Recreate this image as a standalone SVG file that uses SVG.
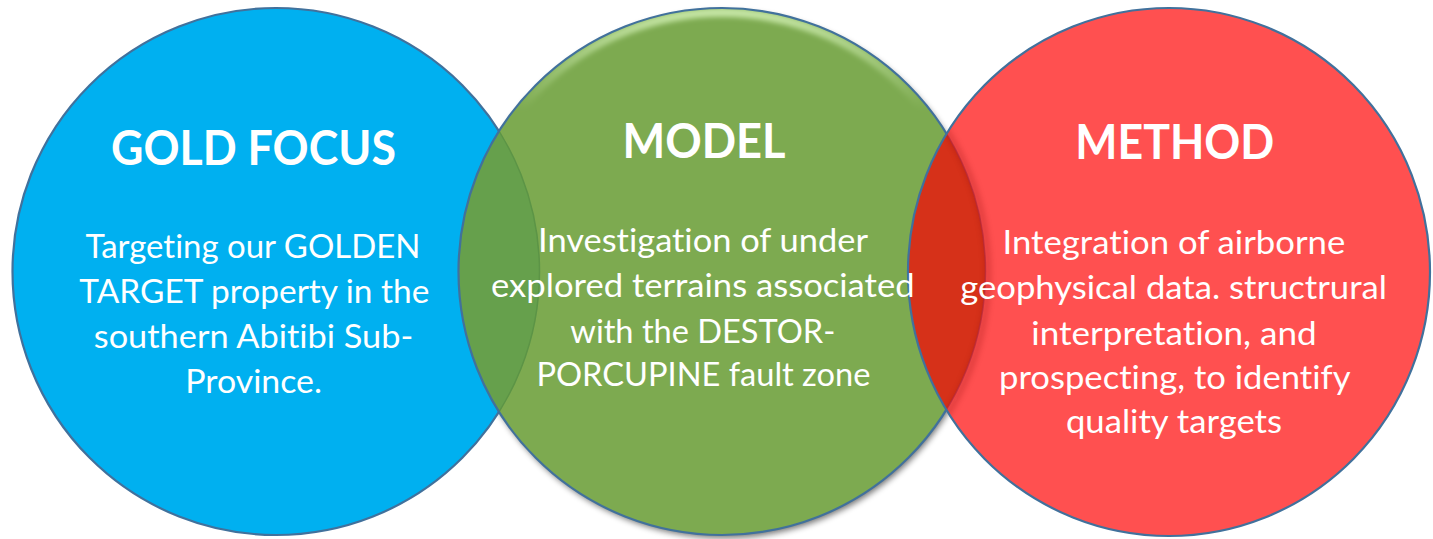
<svg xmlns="http://www.w3.org/2000/svg" width="1433" height="539" viewBox="0 0 1433 539">
  <style>
    .ring { fill: none; stroke: #41719C; stroke-width: 2.2; }
    .title { font-family: Lato, "Open Sans", sans-serif; font-weight: 700; font-size: 48px; fill: #FFFFFF; text-anchor: middle; font-variant-ligatures: none; }
    .body { font-family: Lato, "Open Sans", sans-serif; font-size: 33.5px; fill: #FFFFFF; text-anchor: middle; font-variant-ligatures: none; }
  </style>
  <defs>
    <clipPath id="clipBlue"><circle cx="276" cy="271.5" r="263.5"/></clipPath>
    <clipPath id="clipGreen"><circle cx="722" cy="271.5" r="263.5"/></clipPath>
    <clipPath id="clipRed"><ellipse cx="1169" cy="272" rx="261" ry="264"/></clipPath>
    <filter id="soft" x="-10%" y="-10%" width="120%" height="120%">
      <feGaussianBlur stdDeviation="3"/>
    </filter>
    <filter id="glowBlur" x="-10%" y="-10%" width="120%" height="120%">
      <feGaussianBlur stdDeviation="2.5"/>
    </filter>
    <linearGradient id="topGlow" gradientUnits="userSpaceOnUse" x1="0" y1="8" x2="0" y2="110">
      <stop offset="0" stop-color="#C8E8A8" stop-opacity="1"/>
      <stop offset="1" stop-color="#C8E8A8" stop-opacity="0"/>
    </linearGradient>
  </defs>

  <!-- circles -->
  <g id="circles">
    <!-- soft shadow cast by the middle circle -->
    <circle cx="724" cy="275" r="263" fill="#000000" opacity="0.55" filter="url(#soft)"/>

    <g id="gold-focus">
      <circle cx="276" cy="271.5" r="263.5" fill="#00B0F0"/>
      <circle class="ring" cx="276" cy="271.5" r="263.5"/>
    </g>

    <g id="model">
      <circle cx="722" cy="271.5" r="263.5" fill="#7DAA50"/>
      <!-- overlap with the left circle -->
      <circle cx="276" cy="271.5" r="263.5" fill="#66A04C" clip-path="url(#clipGreen)"/>
      <circle cx="276" cy="271.5" r="263.5" fill="none" stroke="#5C9446" stroke-width="1.5" clip-path="url(#clipGreen)"/>
      <!-- light bevel along the top -->
      <g clip-path="url(#clipGreen)">
        <circle cx="722" cy="271.5" r="259" fill="none" stroke="url(#topGlow)" stroke-width="9" filter="url(#glowBlur)"/>
      </g>
      <circle class="ring" cx="722" cy="271.5" r="263.5"/>
    </g>

    <g id="method">
      <ellipse cx="1169" cy="272" rx="261" ry="264" fill="#FF5050"/>
      <!-- overlap with the middle circle -->
      <circle cx="722" cy="271.5" r="263.5" fill="#D63119" clip-path="url(#clipRed)"/>
      <g clip-path="url(#clipRed)">
        <circle cx="724" cy="273" r="264" fill="none" stroke="#7A1010" stroke-width="4" opacity="0.35" filter="url(#soft)"/>
        <circle cx="722" cy="271.5" r="263.5" fill="none" stroke="#B3283A" stroke-width="1.5" opacity="0.7"/>
      </g>
      <ellipse class="ring" cx="1169" cy="272" rx="261" ry="264"/>
    </g>
  </g>

  <!-- labels -->
  <g id="labels">
    <g id="gold-focus-label">
      <text class="title" x="253.5" y="164.6" textLength="285" lengthAdjust="spacingAndGlyphs">GOLD FOCUS</text>
      <text class="body" x="253" y="258.3" textLength="335" lengthAdjust="spacingAndGlyphs">Targeting our GOLDEN</text>
      <text class="body" x="254.3" y="303" textLength="350" lengthAdjust="spacingAndGlyphs">TARGET property in the</text>
      <text class="body" x="253.5" y="347.8" textLength="319.5" lengthAdjust="spacingAndGlyphs">southern Abitibi Sub-</text>
      <text class="body" x="253.6" y="392.6" textLength="136.7" lengthAdjust="spacingAndGlyphs">Province.</text>
    </g>
    <g id="model-label">
      <text class="title" x="704" y="158.4" textLength="163" lengthAdjust="spacingAndGlyphs">MODEL</text>
      <text class="body" x="703" y="252.4" textLength="330" lengthAdjust="spacingAndGlyphs">Investigation of under</text>
      <text class="body" x="702.8" y="296.8" textLength="423.5" lengthAdjust="spacingAndGlyphs">explored terrains associated</text>
      <text class="body" x="702.8" y="342.6" textLength="265" lengthAdjust="spacingAndGlyphs">with the DESTOR-</text>
      <text class="body" x="703.4" y="386.4" textLength="334" lengthAdjust="spacingAndGlyphs">PORCUPINE fault zone</text>
    </g>
    <g id="method-label">
      <text class="title" x="1174.8" y="159.3" textLength="199" lengthAdjust="spacingAndGlyphs">METHOD</text>
      <text class="body" x="1173.9" y="253.5" textLength="342.8" lengthAdjust="spacingAndGlyphs">Integration of airborne</text>
      <text class="body" x="1173.6" y="298.5" textLength="426.6" lengthAdjust="spacingAndGlyphs">geophysical data. structrural</text>
      <text class="body" x="1174" y="344.5" textLength="285.3" lengthAdjust="spacingAndGlyphs">interpretation, and</text>
      <text class="body" x="1174.8" y="388.5" textLength="351.5" lengthAdjust="spacingAndGlyphs">prospecting, to identify</text>
      <text class="body" x="1174" y="432.8" textLength="216.1" lengthAdjust="spacingAndGlyphs">quality targets</text>
    </g>
  </g>
</svg>
